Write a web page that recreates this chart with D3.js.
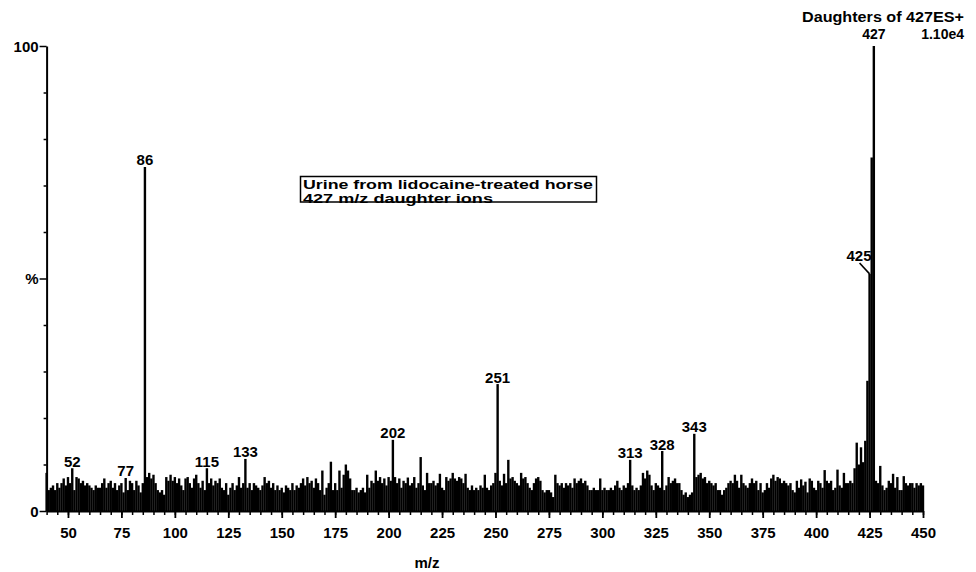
<!DOCTYPE html>
<html>
<head>
<meta charset="utf-8">
<script src="https://cdn.jsdelivr.net/npm/d3@7"></script>
<style>
  html, body { margin: 0; padding: 0; background: #fff; }
  svg { display: block; }
  text { font-family: "Liberation Sans", Arial, sans-serif; font-weight: bold; fill: #000; }
</style>
</head>
<body>
<svg id="chart" width="976" height="572"></svg>
<script>
// Product-ion spectrum, one intensity (% of base peak) per nominal m/z starting at mzStart
const mzStart = 40;
const intensity = [
  8.2, 4.5, 5, 5.5, 4.5, 6, 5, 6, 7, 5.5,            // 40
  7.3, 6, 9.2, 4.5, 7.3, 7, 6, 6.5, 5.5, 6,          // 50
  5.5, 5, 4.5, 5.5, 5, 5, 6, 7, 5, 6,                // 60
  6.5, 5, 6, 4.5, 5.5, 6, 4, 7.1, 4.5, 6.5,          // 70
  6, 4.5, 6.5, 5.5, 4, 6, 74, 7.3, 8.2, 7,           // 80
  7.8, 6, 4.5, 4, 4.5, 3.5, 7.3, 6.5, 7.8, 6.5,      // 90
  7.3, 6, 7, 5.5, 4.5, 7, 7.3, 6, 5, 7,              // 100
  7.8, 6, 5, 6.5, 4.5, 9.2, 6, 7, 5.5, 6.5,          // 110
  6, 7, 5, 4.5, 6, 3.5, 5, 6, 4.5, 5.5,              // 120
  7.3, 5, 6, 11.2, 5, 6, 4.5, 6, 5.5, 5,             // 130
  4.5, 5.5, 7.3, 6, 6.5, 5, 6, 4.5, 5.5, 4.5,        // 140
  5, 4, 5.5, 5, 4.5, 6, 4.5, 5.5, 5, 6,              // 150
  7, 5.5, 7.3, 6, 6.5, 5, 7, 6, 4.5, 8.7,            // 160
  3.5, 5, 6, 10.6, 4.5, 6, 4.5, 8.7, 5, 7.8,         // 170
  10, 8.7, 7, 4.5, 4.5, 5, 4, 4.5, 5, 4,             // 180
  7.8, 5, 6.5, 6, 8.7, 6.5, 7.3, 6, 7, 5.5,          // 190
  7.3, 6.5, 15.3, 7.3, 6, 7, 5, 6.5, 6, 7.2,         // 200
  5.5, 6, 7.3, 5, 6, 11.6, 5.5, 4.5, 8.2, 6,         // 210
  6, 6.5, 5.5, 6, 8, 5, 4.5, 7.3, 6.5, 7,            // 220
  8.2, 7, 6.5, 7.3, 7, 6, 8, 5, 4.5, 5.5,            // 230
  4.5, 5, 4.5, 5.5, 5, 7.8, 5, 4.5, 5.5, 6,          // 240
  8.2, 27.3, 6.5, 5.5, 8, 6, 11, 7, 7.3, 6.5,        // 250
  6, 5.5, 8.2, 7, 7.3, 6, 5, 4.5, 6, 7,              // 260
  7.3, 6.5, 4.5, 4, 4.5, 4.5, 4, 3, 7.8, 6,          // 270
  5.5, 6, 5, 6, 5.5, 6, 5, 7, 6, 6.5,                // 280
  7, 6, 6.5, 5.5, 4.5, 4.5, 5, 4.5, 4.5, 7,          // 290
  4.5, 5, 4.5, 4.5, 5, 4.5, 5.5, 6.5, 5, 4.5,        // 300
  5.5, 5, 6, 11, 5.5, 4.5, 5, 4.5, 5.5, 8.2,         // 310
  7, 8.7, 7.8, 5.5, 4.5, 6, 5.5, 5, 12.9, 4.5,       // 320
  5.5, 7.3, 6, 6.5, 7, 6, 6, 4.5, 3.5, 4,            // 330
  3, 3.5, 4, 16.6, 7.3, 7.8, 8.2, 7, 7.3, 6,         // 340
  6.5, 6, 5.5, 6, 4.5, 4.5, 3.5, 4.5, 5, 6,          // 350
  6.5, 6, 7.8, 6.5, 5, 7.8, 6, 5.5, 5, 6,            // 360
  7, 6, 6.5, 4.5, 6, 4, 4.5, 6, 5, 7,                // 370
  7.8, 6.5, 7.3, 7, 6, 6.5, 6, 5.5, 6, 4.5,          // 380
  4, 6.5, 5, 6.8, 5.5, 6.3, 4, 7, 6.5, 5,            // 390
  4.5, 6.5, 6, 5, 8.8, 6.5, 6, 6.5, 4.5, 5,          // 400
  8.9, 5.5, 5, 8.2, 6, 6, 6.5, 6, 9.2, 14.7,         // 410
  10, 13.7, 10.5, 15.1, 28, 51, 76, 100, 6.5, 6,     // 420
  9.7, 5.5, 4.5, 5, 6.5, 6, 8, 5, 7.3, 4.5,          // 430
  4.5, 7.5, 6, 5.5, 6, 6, 5, 6, 5.5, 6,              // 440
  5.5                                                // 450
];
const labelledMz = [52, 77, 86, 115, 133, 202, 251, 313, 328, 343, 425, 427];
const xTickValues = [50, 75, 100, 125, 150, 175, 200, 225, 250, 275, 300, 325, 350, 375, 400, 425, 450];
const yTickValues = [0, 10, 20, 30, 40, 50, 60, 70, 80, 90, 100];
const yTickLabels = { 0: "0", 50: "%", 100: "100" };
const headerTitle = "Daughters of 427ES+";
const headerScale = "1.10e4";
const noteLines = ["Urine from lidocaine-treated horse", "427 m/z daughter ions"];
const xTitle = "m/z";

const svg = d3.select("#chart");
const x = d3.scaleLinear().domain([40, 450]).range([46.6, 923]);
const y = d3.scaleLinear().domain([0, 100]).range([511, 46]);

const spectrum = intensity.map((v, i) => ({ mz: mzStart + i, v }));

// stick spectrum
svg.append("g")
  .selectAll("line")
  .data(spectrum)
  .join("line")
  .attr("x1", d => x(d.mz)).attr("x2", d => x(d.mz))
  .attr("y1", y(0)).attr("y2", d => y(d.v))
  .attr("stroke", "#000")
  .attr("stroke-width", 2.4);

// y axis
const yAxis = svg.append("g")
  .attr("transform", `translate(${x(40)},0)`)
  .call(d3.axisLeft(y).tickValues(yTickValues).tickSizeOuter(0)
    .tickFormat(d => yTickLabels[d] || ""));
yAxis.select(".domain").attr("stroke", "#000").attr("stroke-width", 2);
yAxis.selectAll(".tick line")
  .attr("stroke", "#000").attr("stroke-width", 1.5)
  .attr("x2", d => yTickLabels[d] ? -7 : -3);
yAxis.selectAll(".tick text")
  .attr("x", -8).attr("dy", "0.36em")
  .style("font-size", "15px");

// x axis: minor ticks every 5, labelled ticks every 25
const xMinor = svg.append("g")
  .attr("transform", `translate(0,${y(0)})`)
  .call(d3.axisBottom(x).tickValues(d3.range(40, 451, 5)).tickSize(4).tickSizeOuter(0).tickFormat(""));
xMinor.select(".domain").attr("stroke", "#000").attr("stroke-width", 2);
xMinor.selectAll(".tick line").attr("stroke", "#000").attr("stroke-width", 1.5);

const xAxis = svg.append("g")
  .attr("transform", `translate(0,${y(0)})`)
  .call(d3.axisBottom(x).tickValues(xTickValues).tickSize(7).tickSizeOuter(0));
xAxis.select(".domain").remove();
xAxis.selectAll(".tick line").attr("stroke", "#000").attr("stroke-width", 1.8);
xAxis.selectAll(".tick text")
  .attr("y", 27).attr("dy", 0)
  .style("font-size", "15px");

svg.append("text")
  .attr("x", 427).attr("y", 568)
  .attr("text-anchor", "middle")
  .style("font-size", "15px")
  .text(xTitle);

// peak labels
const byMz = new Map(spectrum.map(d => [d.mz, d.v]));
const peakLabels = svg.append("g").style("font-size", "15px");
labelledMz.forEach(mz => {
  const v = byMz.get(mz);
  if (mz === 425) {
    peakLabels.append("text")
      .attr("x", x(mz) + 2).attr("y", 261)
      .attr("text-anchor", "end")
      .text(mz);
    peakLabels.append("line")
      .attr("x1", x(mz) - 10).attr("y1", 263)
      .attr("x2", x(mz)).attr("y2", y(v))
      .attr("stroke", "#000").attr("stroke-width", 1.6);
  } else if (mz === 427) {
    peakLabels.append("text")
      .attr("x", x(mz)).attr("y", 39)
      .attr("text-anchor", "middle")
      .style("font-size", "14px")
      .text(mz);
  } else {
    peakLabels.append("text")
      .attr("x", x(mz)).attr("y", y(v) - 1.5)
      .attr("text-anchor", "middle")
      .text(mz);
  }
});

// header
svg.append("text")
  .attr("x", 802).attr("y", 22)
  .attr("textLength", 162).attr("lengthAdjust", "spacingAndGlyphs")
  .style("font-size", "14px")
  .text(headerTitle);
svg.append("text")
  .attr("x", 964).attr("y", 39)
  .attr("text-anchor", "end")
  .style("font-size", "14px")
  .text(headerScale);

// sample note
const note = svg.append("g");
note.append("rect")
  .attr("x", 300.5).attr("y", 176.5)
  .attr("width", 296).attr("height", 25.5)
  .attr("fill", "none").attr("stroke", "#000").attr("stroke-width", 1.5);
note.append("text")
  .attr("x", 303).attr("y", 188.5)
  .attr("textLength", 290).attr("lengthAdjust", "spacingAndGlyphs")
  .style("font-size", "13px")
  .text(noteLines[0]);
note.append("text")
  .attr("x", 303).attr("y", 203)
  .attr("textLength", 190).attr("lengthAdjust", "spacingAndGlyphs")
  .style("font-size", "13px")
  .text(noteLines[1]);
</script>
</body>
</html>
